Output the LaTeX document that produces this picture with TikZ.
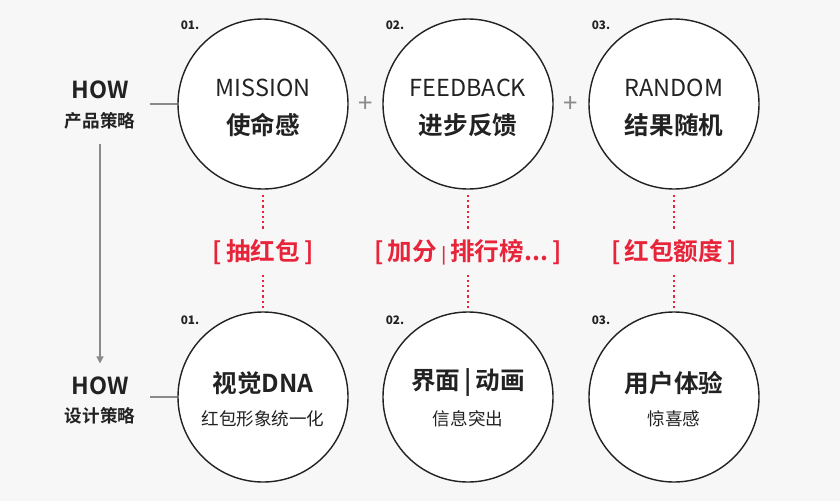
\documentclass[tikz,border=0pt]{standalone}
\usepackage{fontspec}
\setmainfont{Noto Sans CJK SC}
\newfontfamily\cjkbold{Noto Sans CJK SC Bold}
\usetikzlibrary{arrows.meta,positioning}
\definecolor{bgcol}{HTML}{F7F7F7}
\definecolor{redcol}{HTML}{E8243A}
\definecolor{linecol}{HTML}{8A8A8A}
\definecolor{inkcol}{HTML}{222222}
\tikzset{
    stage/.style={draw=inkcol, line width=1.2pt, circle, fill=white, minimum size=5.1cm, inner sep=0pt},
    entxt/.style={font=\fontsize{20}{20}\selectfont, text=inkcol},
    cntxt/.style={font=\cjkbold\fontsize{21}{21}\selectfont, text=inkcol},
    subtxt/.style={font=\fontsize{15}{15}\selectfont, text=inkcol},
    numtxt/.style={font=\bfseries\fontsize{10}{10}\selectfont, text=inkcol},
    howtxt/.style={font=\cjkbold\fontsize{20}{20}\selectfont, text=inkcol},
    howsub/.style={font=\cjkbold\fontsize{15}{15}\selectfont, text=inkcol},
    redtxt/.style={font=\cjkbold\fontsize{21}{21}\selectfont, text=redcol},
    dots/.style={redcol, line width=1.3pt, dash pattern=on 2pt off 2.5pt},
    link/.style={linecol, line width=1pt}
}
\begin{document}
\begin{tikzpicture}[x=0.03cm, y=-0.03cm]
  \useasboundingbox[fill=bgcol] (0,0) rectangle (840,501);

  % Product strategy row
  \node[stage] (m) at (263,104) {};
  \node[stage] (f) at (468,104) {};
  \node[stage] (r) at (674,104) {};
  \node[entxt] at (263,88) {MISSION};
  \node[cntxt] at (263,125) {使命感};
  \node[entxt] at (468,88) {FEEDBACK};
  \node[cntxt] at (468,125) {进步反馈};
  \node[entxt] at (674,88) {RANDOM};
  \node[cntxt] at (674,125) {结果随机};
  \node[numtxt] at (190,25) {01.};
  \node[numtxt] at (395,25) {02.};
  \node[numtxt] at (601,25) {03.};
  \node[linecol, font=\fontsize{22}{22}\selectfont] at (366,104) {+};
  \node[linecol, font=\fontsize{22}{22}\selectfont] at (571,104) {+};

  % Design strategy row
  \node[stage] (v) at (263,397) {};
  \node[stage] (u) at (468,397) {};
  \node[stage] (e) at (674,397) {};
  \node[cntxt] at (263,383) {视觉DNA};
  \node[subtxt] at (263,419) {红包形象统一化};
  \node[cntxt] at (468,383) {界面\,|\,动画};
  \node[subtxt] at (468,419) {信息突出};
  \node[cntxt] at (674,383) {用户体验};
  \node[subtxt] at (674,419) {惊喜感};
  \node[numtxt] at (190,320) {01.};
  \node[numtxt] at (395,320) {02.};
  \node[numtxt] at (601,320) {03.};

  % Red tags
  \node[redtxt] (t1) at (263,252) {[\,抽红包\,]};
  \node[redtxt] (t2) at (468,252) {[\,加分\,{\fontsize{14}{14}\selectfont|}\,排行榜...\,]};
  \node[redtxt] (t3) at (674,252) {[\,红包额度\,]};
  \foreach \a/\b in {m/v, f/u, r/e} {
    \draw[dots] (\a.south) ++(0,5) -- ++(0,35);
    \draw[dots] (\b.north) ++(0,-3) -- ++(0,-33);
  }

  % Left labels
  \node[howtxt] (how1) at (100,90) {HOW};
  \node[howsub] (sub1) at (100,121) {产品策略};
  \node[howtxt] (how2) at (100,386) {HOW};
  \node[howsub] (sub2) at (100,416) {设计策略};
  \draw[link] (150,104) -- (m.west);
  \draw[link] (150,397) -- (v.west);
  \draw[link, -{Triangle[length=6pt, width=6pt]}] (sub1.south) ++(0,10) -- ([yshift=8pt]how2.north);
\end{tikzpicture}
\end{document}
